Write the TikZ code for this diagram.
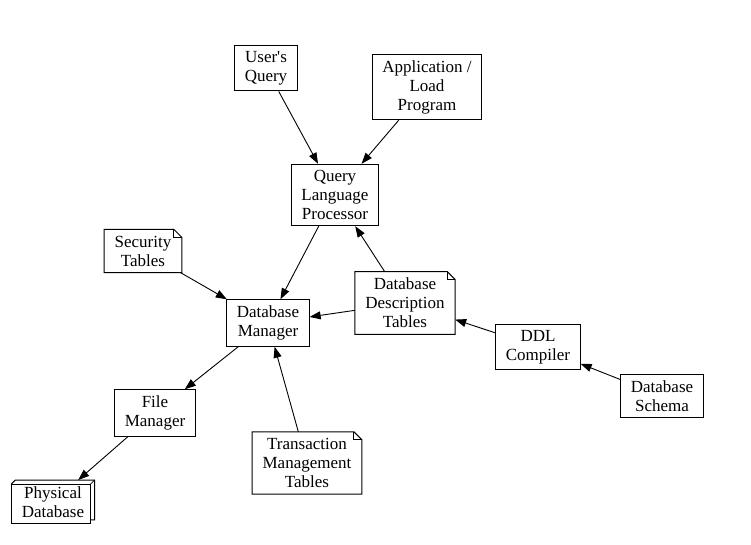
\documentclass[tikz,border=0pt]{standalone}
\usepackage{fontspec}
\setmainfont{Liberation Serif}
\usetikzlibrary{arrows.meta, positioning, calc}

\begin{document}
\begin{tikzpicture}[
    x=1pt, y=-1pt,
    box/.style={rectangle, draw=black, line width=1pt, align=center,
                inner xsep=10pt, inner ysep=6pt,
                font=\fontsize{17}{19}\selectfont},
    note/.style={box, draw=none,
                 append after command={\pgfextra{\let\nn\tikzlastnode
                   \draw[line width=1pt] (\nn.south west) -- (\nn.south east)
                     -- ([yshift=-8pt]\nn.north east) -- ([xshift=-8pt]\nn.north east)
                     -- (\nn.north west) -- cycle;
                   \draw[line width=0.8pt] ([xshift=-8pt]\nn.north east)
                     |- ([yshift=-8pt]\nn.north east);}}},
    cube/.style={box, draw=none,
                 append after command={\pgfextra{\let\nn\tikzlastnode
                   \draw[line width=1pt] (\nn.south west) rectangle ([shift={(-4pt,-4pt)}]\nn.north east);
                   \draw[line width=1pt] ([yshift=-4pt]\nn.north west) -- ([xshift=4pt]\nn.north west)
                     -- (\nn.north east) -- ([yshift=4pt]\nn.south east)
                     -- ([xshift=-4pt,yshift=4pt]\nn.south east);
                   \draw[line width=0.8pt] ([shift={(-4pt,-4pt)}]\nn.north east) -- (\nn.north east);}}},
    arr/.style={-{Triangle[length=11pt, width=8pt]}, line width=0.9pt},
  ]
  \useasboundingbox (0,0) rectangle (751,545);

  % upper part
  \node[box] (query) at (266,68) {User\textquotesingle s\\Query};
  \node[box] (appl) at (427,87) {Application /\\Load\\Program};
  \node[box] (qlp) at (335,195) {Query\\Language\\Processor};
  \node[note] (sect) at (143,251) {Security\\Tables};
  \node[box] (dbm) at (268,323) {Database\\Manager};
  \node[note] (ddt) at (405,303) {Database\\Description\\Tables};
  \node[box] (ddl) at (538,347) {DDL\\Compiler};
  \node[box] (schema) at (662,396) {Database\\Schema};

  % lower part
  \node[box] (filem) at (155,413) {File\\Manager};
  \node[note] (trans) at (307,463) {Transaction\\Management\\Tables};
  \node[cube] (phys) at (53,502) {Physical\\Database};

  \draw[arr] (query) -- (qlp);
  \draw[arr] (appl) -- (qlp);
  \draw[arr] (qlp) -- (dbm);
  \draw[arr] (sect) -- (dbm);
  \draw[arr] (ddt) -- (dbm);
  \draw[arr] (ddt) -- (qlp);
  \draw[arr] (ddl) -- (ddt);
  \draw[arr] (schema) -- (ddl);
  \draw[arr] (dbm) -- (filem);
  \draw[arr] (trans) -- (dbm);
  \draw[arr] (filem) -- (phys);
\end{tikzpicture}
\end{document}
